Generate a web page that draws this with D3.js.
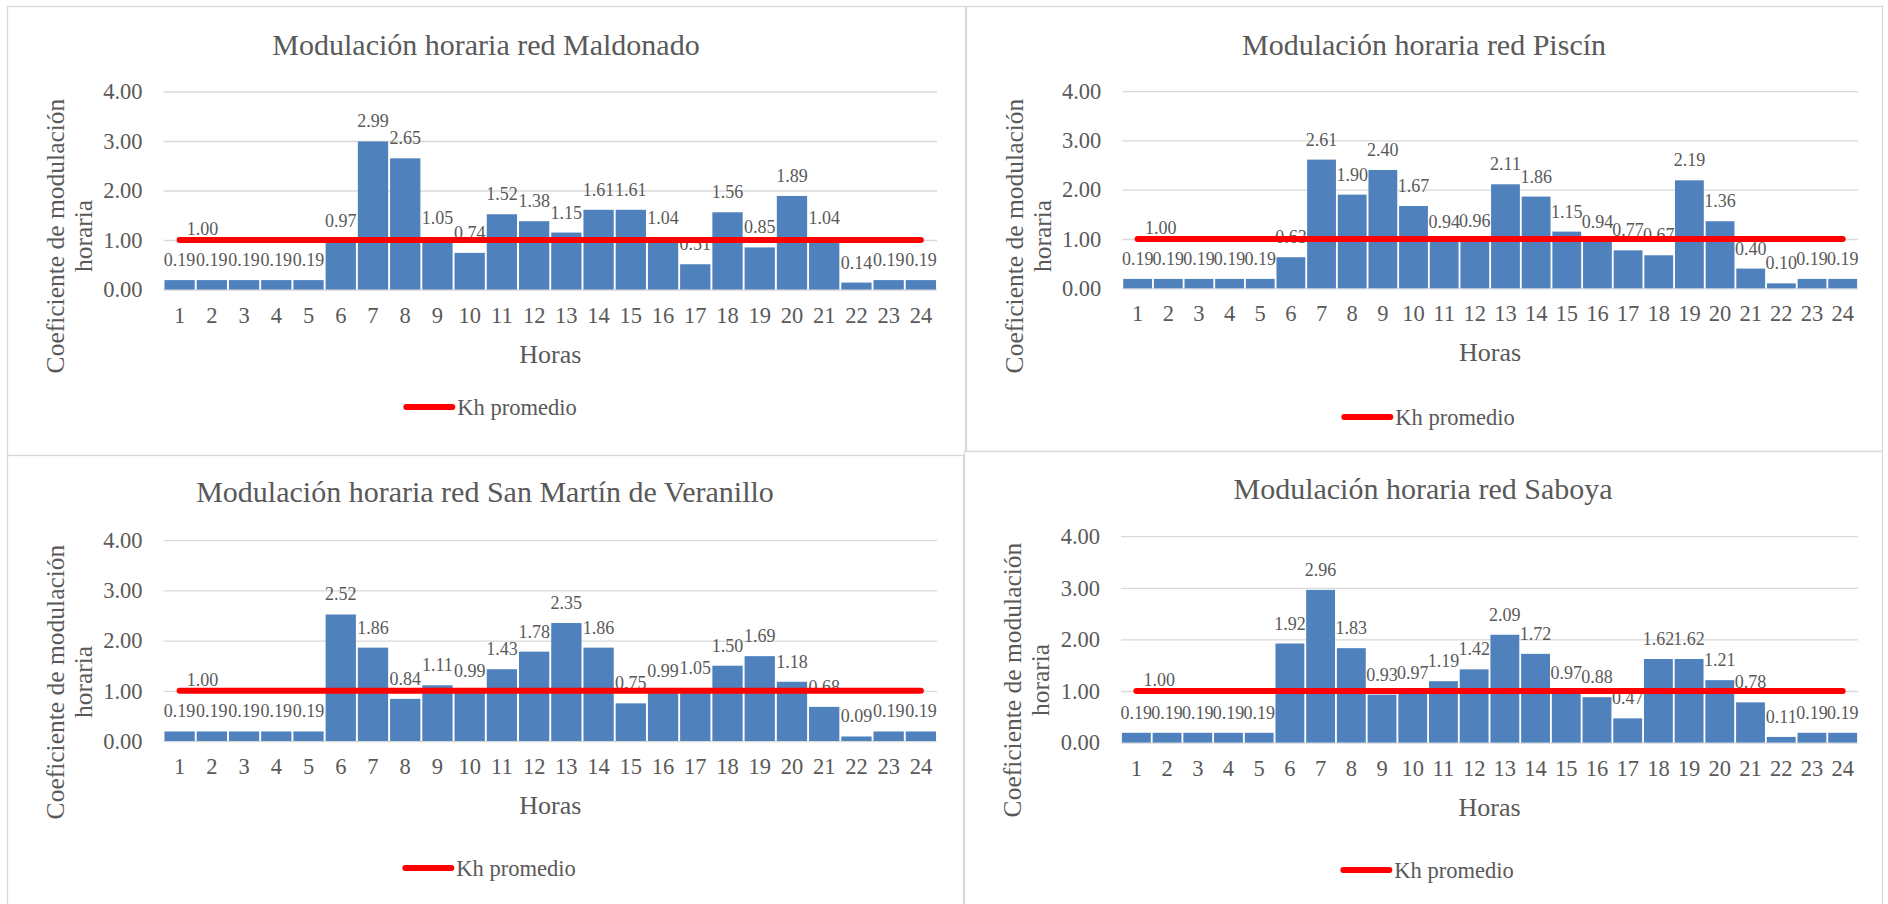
<!DOCTYPE html>
<html lang="es">
<head>
<meta charset="utf-8">
<title>Modulación horaria</title>
<script src="https://cdn.jsdelivr.net/npm/d3@7"></script>
<style>
  html, body { margin: 0; padding: 0; background: #ffffff; }
  svg { display: block; }
</style>
</head>
<body>
<svg id="chart" width="1888" height="904"></svg>
<script>
// Hours of the day (x categories)
const hours = [1, 2, 3, 4, 5, 6, 7, 8, 9, 10, 11, 12, 13, 14, 15, 16, 17, 18, 19, 20, 21, 22, 23, 24];

// Y axis tick values
const yTicks = [0, 1, 2, 3, 4];

// Hourly modulation coefficients per network
const maldonado = [0.19, 0.19, 0.19, 0.19, 0.19, 0.97, 2.99, 2.65, 1.05, 0.74, 1.52, 1.38,
                   1.15, 1.61, 1.61, 1.04, 0.51, 1.56, 0.85, 1.89, 1.04, 0.14, 0.19, 0.19];
const piscin = [0.19, 0.19, 0.19, 0.19, 0.19, 0.63, 2.61, 1.90, 2.40, 1.67, 0.94, 0.96,
                2.11, 1.86, 1.15, 0.94, 0.77, 0.67, 2.19, 1.36, 0.40, 0.10, 0.19, 0.19];
const sanMartin = [0.19, 0.19, 0.19, 0.19, 0.19, 2.52, 1.86, 0.84, 1.11, 0.99, 1.43, 1.78,
                   2.35, 1.86, 0.75, 0.99, 1.05, 1.50, 1.69, 1.18, 0.68, 0.09, 0.19, 0.19];
const saboya = [0.19, 0.19, 0.19, 0.19, 0.19, 1.92, 2.96, 1.83, 0.93, 0.97, 1.19, 1.42,
                2.09, 1.72, 0.97, 0.88, 0.47, 1.62, 1.62, 1.21, 0.78, 0.11, 0.19, 0.19];

// Average hourly coefficient (Kh promedio)
const khPromedio = [1.00, 1.00, 1.00, 1.00, 1.00, 1.00, 1.00, 1.00, 1.00, 1.00, 1.00, 1.00,
                    1.00, 1.00, 1.00, 1.00, 1.00, 1.00, 1.00, 1.00, 1.00, 1.00, 1.00, 1.00];

// Text
const titles = [
  "Modulación horaria red Maldonado",
  "Modulación horaria red Piscín",
  "Modulación horaria red San Martín de Veranillo",
  "Modulación horaria red Saboya"
];
const xTitle = "Horas";
const yTitleLines = ["Coeficiente de modulación", "horaria"];
const legendLabel = "Kh promedio";

const series = [maldonado, piscin, sanMartin, saboya];

// Panel frames and plot areas (2 x 2 grid)
const panels = [
  { box: [7, 6, 965, 455],    plot: [163.5, 91.5, 937, 289.5],  titleY: 55,  yTitleY: 236, legendY: 407 },
  { box: [966, 6, 1882, 451], plot: [1122.3, 91.1, 1858, 288.3], titleY: 55,  yTitleY: 236, legendY: 417 },
  { box: [7, 455, 963, 906],  plot: [163.5, 540.2, 937, 741],   titleY: 502, yTitleY: 682, legendY: 868 },
  { box: [964, 451, 1882, 906], plot: [1121, 536.2, 1858, 742.6], titleY: 499, yTitleY: 680, legendY: 870 }
];

const BAR = "#4f81bd";
const RED = "#ff0000";
const GRID = "#d9d9d9";
const INK = "#595959";
const FONT = "'Liberation Serif', 'Times New Roman', serif";

const svg = d3.select("#chart").style("font-family", FONT);
const fmt = d3.format(".2f");

// shared text styling
function txt(sel, size) {
  return sel.style("font-family", FONT).style("font-size", size + "px").style("fill", INK);
}

panels.forEach((p, i) => {
  const [bx0, by0, bx1, by1] = p.box;
  const [pl, pt, pr, pb] = p.plot;
  const values = series[i];
  const g = svg.append("g");

  // chart frame
  g.append("rect")
    .attr("x", bx0 + 0.5).attr("y", by0 + 0.5)
    .attr("width", bx1 - bx0).attr("height", by1 - by0)
    .attr("fill", "#ffffff").attr("stroke", GRID).attr("stroke-width", 1.3);

  const x = d3.scaleBand().domain(hours).range([pl, pr]).paddingInner(0.06).paddingOuter(0.03);
  const y = d3.scaleLinear().domain([0, 4]).range([pb, pt]);

  // horizontal gridlines + y tick labels
  const yAxis = g.append("g")
    .attr("transform", `translate(${pl},0)`)
    .call(d3.axisLeft(y).tickValues(yTicks).tickFormat(fmt).tickSize(-(pr - pl)).tickPadding(21));
  yAxis.attr("font-family", null).attr("font-size", null);
  yAxis.select(".domain").remove();
  yAxis.selectAll(".tick line").attr("stroke", GRID).attr("stroke-width", 1.3);
  txt(yAxis.selectAll(".tick text"), 22.5);

  // bars
  g.append("g").selectAll("rect")
    .data(values.map((v, k) => ({ h: hours[k], v })))
    .join("rect")
    .attr("x", d => x(d.h))
    .attr("y", d => y(d.v))
    .attr("width", x.bandwidth())
    .attr("height", d => y(0) - y(d.v))
    .attr("fill", BAR);

  // x tick labels
  const xAxis = g.append("g")
    .attr("transform", `translate(0,${pb})`)
    .call(d3.axisBottom(x).tickSize(0));
  xAxis.attr("font-family", null).attr("font-size", null);
  xAxis.select(".domain").remove();
  txt(xAxis.selectAll(".tick text").attr("y", 33).attr("dy", 0), 22.5);

  // bar value labels
  txt(g.append("g").selectAll("text")
    .data(values.map((v, k) => ({ h: hours[k], v })))
    .join("text")
    .attr("x", d => x(d.h) + x.bandwidth() / 2)
    .attr("y", d => y(d.v) - 14)
    .attr("text-anchor", "middle")
    .text(d => fmt(d.v)), 18);

  // average line
  const line = d3.line()
    .x((d, k) => x(hours[k]) + x.bandwidth() / 2)
    .y(d => y(d));
  g.append("path")
    .datum(khPromedio)
    .attr("d", line)
    .attr("fill", "none")
    .attr("stroke", RED)
    .attr("stroke-width", 6)
    .attr("stroke-linecap", "round");

  // label on first point of the average line
  txt(g.append("text")
    .attr("x", x(hours[0]) + x.bandwidth() / 2 + 23)
    .attr("y", y(khPromedio[0]) - 5)
    .attr("text-anchor", "middle")
    .text(fmt(khPromedio[0])), 18);

  // chart title
  txt(g.append("text")
    .attr("x", (bx0 + bx1) / 2)
    .attr("y", p.titleY)
    .attr("text-anchor", "middle")
    .text(titles[i]), 30);

  // x axis title
  txt(g.append("text")
    .attr("x", (pl + pr) / 2)
    .attr("y", pb + 73)
    .attr("text-anchor", "middle")
    .text(xTitle), 26);

  // y axis title (two lines, rotated)
  const yt = txt(g.append("text")
    .attr("transform", `translate(${bx0 + 57},${p.yTitleY}) rotate(-90)`)
    .attr("text-anchor", "middle"), 25.5);
  yt.selectAll("tspan")
    .data(yTitleLines)
    .join("tspan")
    .attr("x", 0)
    .attr("y", (d, k) => k * 28)
    .text(d => d);

  // legend
  const lg = g.append("g");
  const lt = txt(lg.append("text")
    .attr("x", 54)
    .attr("y", 7.5)
    .text(legendLabel), 22.5);
  const tw = lt.node().getComputedTextLength();
  lg.insert("line", "text")
    .attr("x1", 3).attr("x2", 49)
    .attr("y1", 0).attr("y2", 0)
    .attr("stroke", RED).attr("stroke-width", 6).attr("stroke-linecap", "round");
  const total = 54 + tw;
  lg.attr("transform", `translate(${(bx0 + bx1) / 2 + 4 - total / 2},${p.legendY})`);
});
</script>
</body>
</html>
